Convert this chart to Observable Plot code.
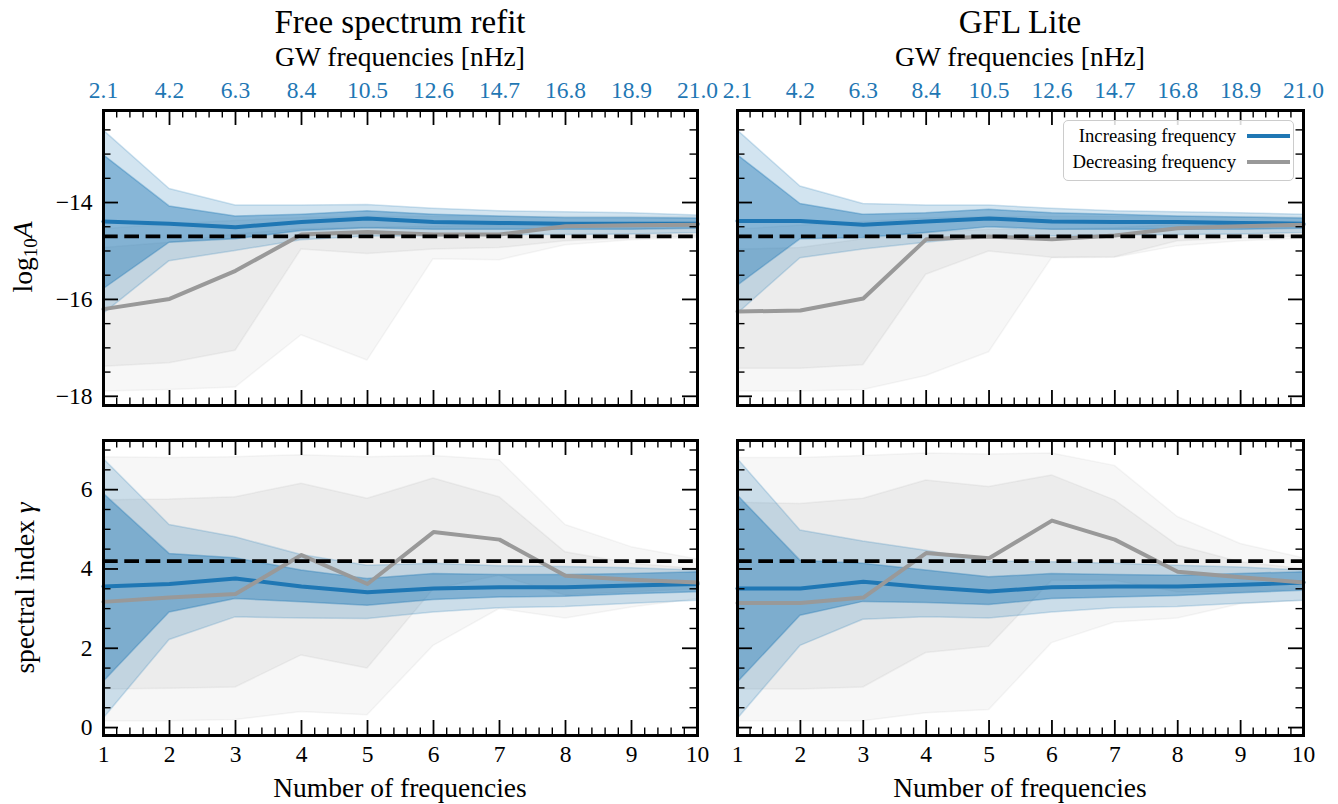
<!DOCTYPE html>
<html><head><meta charset="utf-8">
<script src="https://cdn.jsdelivr.net/npm/d3@7"></script>
<script src="https://cdn.jsdelivr.net/npm/@observablehq/plot@0.6"></script>
<style>
html,body{margin:0;padding:0;background:#fff;}
#root{position:relative;width:1338px;height:804px;overflow:hidden;font-family:"Liberation Serif","Times New Roman",serif;color:#000;}
.abs{position:absolute;white-space:nowrap;}
.title{font-size:33px;transform:translate(-50%,-50%);}
.xlab{font-size:27.5px;transform:translate(-50%,-50%);}
.ylab{font-size:27.5px;transform:translate(-50%,-50%) rotate(-90deg);}
.legend{border:1.5px solid #cccccc;border-radius:5px;background:rgba(255,255,255,0.85);box-sizing:border-box;}
.legrow{position:absolute;right:0;font-size:18.7px;display:flex;align-items:center;}
.legrow span.sw{display:inline-block;width:43px;height:4px;margin-left:11px;margin-right:3px;}
</style></head><body><div id="root"></div>
<script>
// ---------------- data ----------------
const nFreq = [1, 2, 3, 4, 5, 6, 7, 8, 9, 10];
const gwFreqLabels = ["2.1", "4.2", "6.3", "8.4", "10.5", "12.6", "14.7", "16.8", "18.9", "21.0"];
const log10ATicks = [-18, -16, -14];
const gammaTicks = [0, 2, 4, 6];
const refLog10A = -14.7;
const refGamma = 4.2;

// Free spectrum refit, log10 A
const freeA_inc_med = [-14.39, -14.44, -14.51, -14.40, -14.33, -14.40, -14.42, -14.44, -14.44, -14.44];
const freeA_inc_lo1 = [-15.79, -14.83, -14.76, -14.59, -14.53, -14.56, -14.56, -14.56, -14.56, -14.54];
const freeA_inc_hi1 = [-13.02, -14.08, -14.29, -14.25, -14.18, -14.25, -14.29, -14.32, -14.32, -14.33];
const freeA_inc_lo2 = [-16.30, -15.21, -15.00, -14.78, -14.70, -14.70, -14.67, -14.67, -14.66, -14.63];
const freeA_inc_hi2 = [-12.51, -13.72, -14.06, -14.06, -14.05, -14.13, -14.18, -14.20, -14.22, -14.27];
const freeA_dec_med = [-16.20, -15.99, -15.41, -14.66, -14.61, -14.66, -14.66, -14.49, -14.47, -14.46];
const freeA_dec_lo1 = [-17.39, -17.32, -17.06, -14.97, -15.06, -14.97, -14.94, -14.80, -14.74, -14.70];
const freeA_dec_hi1 = [-14.94, -14.83, -14.66, -14.55, -14.52, -14.50, -14.48, -14.44, -14.42, -14.41];
const freeA_dec_lo2 = [-17.90, -17.87, -17.82, -16.74, -17.26, -15.17, -15.19, -14.88, -14.78, -14.73];
const freeA_dec_hi2 = [-14.55, -14.45, -14.38, -14.32, -14.30, -14.30, -14.30, -14.30, -14.30, -14.30];

// GFL Lite, log10 A
const gflA_inc_med = [-14.38, -14.38, -14.46, -14.39, -14.33, -14.39, -14.40, -14.40, -14.42, -14.44];
const gflA_inc_lo1 = [-15.72, -14.76, -14.73, -14.63, -14.51, -14.56, -14.56, -14.56, -14.56, -14.54];
const gflA_inc_hi1 = [-13.02, -14.03, -14.25, -14.22, -14.15, -14.22, -14.25, -14.29, -14.31, -14.33];
const gflA_inc_lo2 = [-16.30, -15.15, -14.97, -14.83, -14.70, -14.70, -14.68, -14.67, -14.66, -14.63];
const gflA_inc_hi2 = [-12.51, -13.67, -14.03, -14.06, -14.06, -14.13, -14.18, -14.20, -14.22, -14.25];
const gflA_dec_med = [-16.25, -16.23, -15.98, -14.76, -14.70, -14.76, -14.68, -14.53, -14.49, -14.46];
const gflA_dec_lo1 = [-17.43, -17.43, -17.36, -15.49, -15.01, -15.14, -15.13, -14.80, -14.74, -14.70];
const gflA_dec_hi1 = [-14.97, -14.94, -14.76, -14.63, -14.56, -14.56, -14.53, -14.46, -14.42, -14.41];
const gflA_dec_lo2 = [-17.90, -17.90, -17.87, -17.58, -17.09, -15.15, -15.14, -14.90, -14.80, -14.75];
const gflA_dec_hi2 = [-14.56, -14.48, -14.40, -14.33, -14.30, -14.30, -14.30, -14.30, -14.30, -14.31];

// Free spectrum refit, spectral index gamma
const freeG_inc_med = [3.56, 3.62, 3.76, 3.56, 3.41, 3.51, 3.54, 3.54, 3.58, 3.62];
const freeG_inc_lo1 = [1.15, 2.90, 3.24, 3.16, 3.07, 3.22, 3.28, 3.30, 3.36, 3.41];
const freeG_inc_hi1 = [5.90, 4.38, 4.27, 3.96, 3.75, 3.87, 3.85, 3.85, 3.87, 3.92];
const freeG_inc_lo2 = [0.22, 2.21, 2.78, 2.75, 2.74, 2.90, 3.01, 3.04, 3.12, 3.20];
const freeG_inc_hi2 = [6.78, 5.11, 4.80, 4.35, 4.08, 4.13, 4.07, 4.05, 4.02, 3.96];
const freeG_dec_med = [3.17, 3.28, 3.37, 4.35, 3.62, 4.93, 4.74, 3.83, 3.73, 3.66];
const freeG_dec_lo1 = [0.96, 0.98, 1.01, 1.82, 1.49, 3.48, 3.83, 3.33, 3.41, 3.49];
const freeG_dec_hi1 = [5.73, 5.75, 5.81, 6.15, 5.77, 6.28, 5.81, 4.42, 4.13, 4.00];
const freeG_dec_lo2 = [0.16, 0.16, 0.19, 0.39, 0.31, 2.06, 2.99, 2.75, 3.03, 3.24];
const freeG_dec_hi2 = [6.82, 6.80, 6.82, 6.87, 6.82, 6.85, 6.74, 5.11, 4.55, 4.24];

// GFL Lite, spectral index gamma
const gflG_inc_med = [3.51, 3.51, 3.68, 3.54, 3.43, 3.54, 3.56, 3.56, 3.60, 3.66];
const gflG_inc_lo1 = [1.13, 2.82, 3.17, 3.14, 3.09, 3.24, 3.28, 3.32, 3.39, 3.45];
const gflG_inc_hi1 = [5.86, 4.21, 4.13, 3.96, 3.79, 3.87, 3.85, 3.83, 3.87, 3.92];
const gflG_inc_lo2 = [0.21, 2.06, 2.72, 2.78, 2.75, 2.90, 3.01, 3.04, 3.12, 3.20];
const gflG_inc_hi2 = [6.78, 4.97, 4.69, 4.46, 4.19, 4.17, 4.13, 4.08, 4.04, 3.96];
const gflG_dec_med = [3.14, 3.14, 3.28, 4.40, 4.27, 5.22, 4.74, 3.93, 3.79, 3.66];
const gflG_dec_lo1 = [0.96, 0.96, 1.01, 1.88, 2.04, 3.70, 3.70, 3.41, 3.41, 3.49];
const gflG_dec_hi1 = [5.67, 5.64, 5.77, 6.23, 6.07, 6.36, 5.73, 4.59, 4.17, 4.00];
const gflG_dec_lo2 = [0.16, 0.16, 0.16, 0.36, 0.44, 2.13, 2.65, 2.75, 3.11, 3.20];
const gflG_dec_hi2 = [6.80, 6.80, 6.85, 6.91, 6.89, 6.91, 6.60, 5.31, 4.63, 4.27];

// ---------------- helpers ----------------
const BLUE = "#1f77b4";
const GRAY = "#999999";
const FONT = "Liberation Serif, Times New Roman, serif";
const TICKFONT = 23.5;

function rows(med, lo1, hi1, lo2, hi2) {
  return nFreq.map((n, i) => ({n, med: med[i], lo1: lo1[i], hi1: hi1[i], lo2: lo2[i], hi2: hi2[i]}));
}

const xMinor = d3.range(1, 10.001, 0.2).map(v => +v.toFixed(2)).filter(v => !nFreq.includes(v));

function panel(o) {
  const innerW = o.width - o.marginLeft - o.marginRight;
  const innerH = o.height - o.marginTop - o.marginBottom;
  const yMinor = d3.range(Math.ceil(o.yDomain[0] * 2) / 2, o.yDomain[1], 0.5)
    .map(v => +v.toFixed(2)).filter(v => !o.yTicks.includes(v));
  const inc = o.inc, dec = o.dec;
  const MAJ = 15, MIN = 7.5;
  const marks = [
    // decreasing (gray) bands
    Plot.areaY(dec, {x: "n", y1: "lo2", y2: "hi2", fill: "#808080", fillOpacity: 0.065, stroke: "#808080", strokeOpacity: 0.07, strokeWidth: 1.5}),
    Plot.areaY(dec, {x: "n", y1: "lo1", y2: "hi1", fill: "#808080", fillOpacity: 0.09, stroke: "#808080", strokeOpacity: 0.09, strokeWidth: 1.5}),
    // increasing (blue) bands
    Plot.areaY(inc, {x: "n", y1: "lo2", y2: "hi2", fill: BLUE, fillOpacity: 0.2, stroke: BLUE, strokeOpacity: 0.2, strokeWidth: 1.5}),
    Plot.areaY(inc, {x: "n", y1: "lo1", y2: "hi1", fill: BLUE, fillOpacity: 0.42, stroke: BLUE, strokeOpacity: 0.35, strokeWidth: 1.5}),
    Plot.line(inc, {x: "n", y: "med", stroke: BLUE, strokeWidth: 4}),
    Plot.line(dec, {x: "n", y: "med", stroke: GRAY, strokeWidth: 4}),
    Plot.ruleY([o.ref], {stroke: "black", strokeWidth: 3.8, strokeDasharray: "14.7,6.6"}),
    // inward ticks
    Plot.tickX(nFreq, {x: d => d, insetBottom: innerH - MAJ, stroke: "black", strokeWidth: 1.8}),
    Plot.tickX(nFreq, {x: d => d, insetTop: innerH - MAJ, stroke: "black", strokeWidth: 1.8}),
    Plot.tickX(xMinor, {x: d => d, insetBottom: innerH - MIN, stroke: "black", strokeWidth: 1.4}),
    Plot.tickX(xMinor, {x: d => d, insetTop: innerH - MIN, stroke: "black", strokeWidth: 1.4}),
    Plot.tickY(o.yTicks, {y: d => d, insetRight: innerW - MAJ, stroke: "black", strokeWidth: 1.8}),
    Plot.tickY(o.yTicks, {y: d => d, insetLeft: innerW - MAJ, stroke: "black", strokeWidth: 1.8}),
    Plot.tickY(yMinor, {y: d => d, insetRight: innerW - MIN, stroke: "black", strokeWidth: 1.4}),
    Plot.tickY(yMinor, {y: d => d, insetLeft: innerW - MIN, stroke: "black", strokeWidth: 1.4}),
    Plot.frame({stroke: "black", strokeWidth: 3})
  ];
  if (o.topLabels) {
    marks.push(Plot.text(nFreq, {x: d => d, text: (d, i) => gwFreqLabels[i], frameAnchor: "top", lineAnchor: "bottom",
      dy: -13, fontSize: TICKFONT, fill: BLUE}));
  }
  if (o.bottomLabels) {
    marks.push(Plot.text(nFreq, {x: d => d, text: d => String(d), frameAnchor: "bottom", lineAnchor: "top",
      dy: 10, fontSize: TICKFONT, fill: "black"}));
  }
  if (o.leftLabels) {
    marks.push(Plot.text(o.yTicks, {y: d => d, text: d => d3.format("d")(d), frameAnchor: "left", textAnchor: "end",
      lineAnchor: "middle", dx: -11, fontSize: TICKFONT, fill: "black"}));
  }
  return Plot.plot({
    width: o.width, height: o.height,
    marginLeft: o.marginLeft, marginRight: o.marginRight, marginTop: o.marginTop, marginBottom: o.marginBottom,
    style: {fontFamily: FONT, fontSize: TICKFONT + "px", background: "transparent", overflow: "visible"},
    x: {domain: [1, 10], axis: null},
    y: {domain: o.yDomain, axis: null},
    marks
  });
}

const root = document.getElementById("root");
function place(el, left, top) {
  el.style.position = "absolute"; el.style.left = left + "px"; el.style.top = top + "px";
  root.appendChild(el);
}
function addText(cls, html, x, y) {
  const d = document.createElement("div");
  d.className = "abs " + cls; d.innerHTML = html;
  d.style.left = x + "px"; d.style.top = y + "px";
  root.appendChild(d);
}

const A_DOMAIN = [-18.19, -12.1];
const G_DOMAIN = [-0.2, 7.24];
const TOP = {height: 351, marginTop: 48, marginBottom: 8};
const BOT = {height: 384, marginTop: 20, marginBottom: 69};
const LEFT = {width: 707, marginLeft: 103, marginRight: 10};
const RIGHT = {width: 618, marginLeft: 17, marginRight: 35};

place(panel({...LEFT, ...TOP, yDomain: A_DOMAIN, yTicks: log10ATicks, ref: refLog10A, topLabels: true, leftLabels: true,
  inc: rows(freeA_inc_med, freeA_inc_lo1, freeA_inc_hi1, freeA_inc_lo2, freeA_inc_hi2),
  dec: rows(freeA_dec_med, freeA_dec_lo1, freeA_dec_hi1, freeA_dec_lo2, freeA_dec_hi2)}), 0, 62);
place(panel({...RIGHT, ...TOP, yDomain: A_DOMAIN, yTicks: log10ATicks, ref: refLog10A, topLabels: true,
  inc: rows(gflA_inc_med, gflA_inc_lo1, gflA_inc_hi1, gflA_inc_lo2, gflA_inc_hi2),
  dec: rows(gflA_dec_med, gflA_dec_lo1, gflA_dec_hi1, gflA_dec_lo2, gflA_dec_hi2)}), 720, 62);
place(panel({...LEFT, ...BOT, yDomain: G_DOMAIN, yTicks: gammaTicks, ref: refGamma, bottomLabels: true, leftLabels: true,
  inc: rows(freeG_inc_med, freeG_inc_lo1, freeG_inc_hi1, freeG_inc_lo2, freeG_inc_hi2),
  dec: rows(freeG_dec_med, freeG_dec_lo1, freeG_dec_hi1, freeG_dec_lo2, freeG_dec_hi2)}), 0, 420);
place(panel({...RIGHT, ...BOT, yDomain: G_DOMAIN, yTicks: gammaTicks, ref: refGamma, bottomLabels: true,
  inc: rows(gflG_inc_med, gflG_inc_lo1, gflG_inc_hi1, gflG_inc_lo2, gflG_inc_hi2),
  dec: rows(gflG_dec_med, gflG_dec_lo1, gflG_dec_hi1, gflG_dec_lo2, gflG_dec_hi2)}), 720, 420);

// titles and axis labels
addText("title", "Free spectrum refit", 400, 22);
addText("title", "GFL Lite", 1020, 22);
addText("xlab", "GW frequencies [nHz]", 400, 57);
addText("xlab", "GW frequencies [nHz]", 1020, 57);
addText("xlab", "Number of frequencies", 400, 788);
addText("xlab", "Number of frequencies", 1020, 788);
addText("ylab", "log<sub style=\"font-size:19px;vertical-align:-5px\">10</sub><i>A</i>", 24, 257);
addText("ylab", "spectral index <i>γ</i>", 25, 588);

// legend
const leg = document.createElement("div");
leg.className = "abs legend";
leg.style.left = "1063px"; leg.style.top = "120px"; leg.style.width = "231px"; leg.style.height = "61px";
leg.innerHTML =
  `<div class="legrow" style="top:4px"><span>Increasing frequency</span><span class="sw" style="background:${BLUE}"></span></div>` +
  `<div class="legrow" style="top:30px"><span>Decreasing frequency</span><span class="sw" style="background:${GRAY}"></span></div>`;
root.appendChild(leg);
</script>
</body></html>
